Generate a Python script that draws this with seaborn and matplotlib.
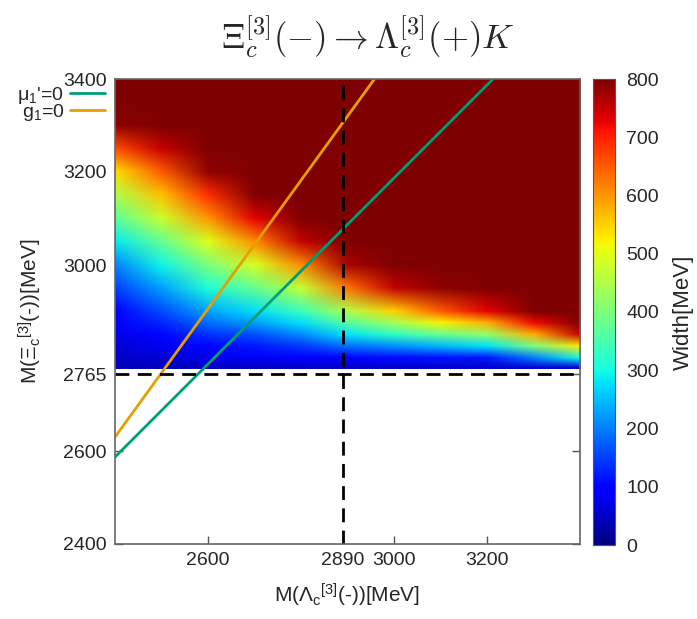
import numpy as np
import matplotlib
matplotlib.use("Agg")
import matplotlib.pyplot as plt
from matplotlib.image import NonUniformImage
from matplotlib.patches import Rectangle
import seaborn as sns

# grid of the width map (MeV)
mass_lambda = [2400, 2500, 2600, 2700, 2800, 2900, 3000, 3100, 3200, 3300, 3400]
mass_xi = [2778, 2800, 2825, 2850, 2875, 2900, 2950, 3000, 3050, 3100,
           3150, 3200, 3250, 3300, 3350, 3400]
width_rows = [
    [40, 42, 45, 48, 50, 55, 55, 55, 58, 60, 60],
    [50, 62, 75, 85, 90, 100, 110, 115, 120, 200, 300],
    [62, 82, 105, 120, 145, 190, 215, 245, 280, 400, 530],
    [75, 105, 140, 165, 210, 280, 330, 380, 420, 580, 750],
    [85, 130, 185, 225, 275, 365, 440, 520, 580, 720, 800],
    [95, 160, 230, 275, 340, 450, 550, 650, 730, 800, 800],
    [150, 225, 310, 380, 470, 630, 750, 790, 800, 800, 800],
    [205, 295, 400, 490, 610, 770, 800, 800, 800, 800, 800],
    [285, 380, 495, 610, 750, 800, 800, 800, 800, 800, 800],
    [370, 475, 600, 730, 800, 800, 800, 800, 800, 800, 800],
    [450, 565, 690, 800, 800, 800, 800, 800, 800, 800, 800],
    [540, 650, 785, 800, 800, 800, 800, 800, 800, 800, 800],
    [665, 750, 800, 800, 800, 800, 800, 800, 800, 800, 800],
    [790, 800, 800, 800, 800, 800, 800, 800, 800, 800, 800],
    [800, 800, 800, 800, 800, 800, 800, 800, 800, 800, 800],
    [800, 800, 800, 800, 800, 800, 800, 800, 800, 800, 800],
]

# the two constraint lines (end points)
mu_x = [2400, 3213]
mu_y = [2587, 3400]
g_x = [2400, 2958]
g_y = [2630, 3400]

xi_threshold = 2765
lambda_mark = 2890

x_ticks = [2600, 2890, 3000, 3200]
y_ticks = [2400, 2600, 2765, 3000, 3200, 3400]
cbar_ticks = [0, 100, 200, 300, 400, 500, 600, 700, 800]

sns.set_style("ticks")
plt.rcParams["font.family"] = ["Liberation Sans", "DejaVu Sans"]
plt.rcParams["mathtext.fontset"] = "custom"
plt.rcParams["mathtext.rm"] = "Liberation Sans"
plt.rcParams["mathtext.it"] = "Liberation Sans:italic"
plt.rcParams["mathtext.bf"] = "Liberation Sans:bold"

fig = plt.figure(figsize=(6.97, 6.19), dpi=100)
ax = fig.add_axes([115 / 697, 75 / 619, 465 / 697, 465 / 619])

# smooth colour map of the width, bilinear between the read grid nodes
img = NonUniformImage(ax, interpolation="bilinear", cmap="jet",
                      extent=(mass_lambda[0], mass_lambda[-1], mass_xi[0], mass_xi[-1]),
                      zorder=1)
img.set_data(np.array(mass_lambda, dtype=float), np.array(mass_xi, dtype=float),
             np.array(width_rows, dtype=float))
img.set_clim(0, 800)
ax.add_image(img)
# only the part above the lower mass edge is coloured
clip = Rectangle((mass_lambda[0], mass_xi[0]), mass_lambda[-1] - mass_lambda[0],
                 mass_xi[-1] - mass_xi[0], transform=ax.transData)
img.set_clip_path(clip)

sns.lineplot(x=mu_x, y=mu_y, color="#009e73", lw=2, label=r"$\mathrm{\mu_1}$'=0",
             ax=ax, zorder=3)
sns.lineplot(x=g_x, y=g_y, color="#e69f00", lw=2, label=r"$\mathrm{g_1}$=0",
             ax=ax, zorder=3)

ax.axhline(xi_threshold, color="black", lw=2, ls=(0, (5, 3)), zorder=4)
ax.axvline(lambda_mark, color="black", lw=2, ls=(0, (5, 3)), zorder=4)

ax.set_xlim(2400, 3400)
ax.set_ylim(2400, 3400)
ax.set_xticks(x_ticks)
ax.set_yticks(y_ticks)
ax.tick_params(direction="in", top=True, right=True, length=6, width=1,
               color="#555555", labelsize=14, pad=6)
for sp in ax.spines.values():
    sp.set_color("#666666")
    sp.set_linewidth(1.2)
    sp.set_zorder(5)

ax.set_xlabel(r"M($\mathrm{\Lambda_c}$$\mathrm{^{[3]}}$(-))[MeV]", fontsize=15, labelpad=9)
ax.set_ylabel(r"M($\mathrm{\Xi_c}$$\mathrm{^{[3]}}$(-))[MeV]", fontsize=15, labelpad=14)

ax.legend(loc="upper right", bbox_to_anchor=(105 / 697, 1 - 85 / 619),
          bbox_transform=fig.transFigure, markerfirst=False, frameon=False,
          handlelength=1.8, handletextpad=0.3, labelspacing=-0.2, fontsize=14,
          borderpad=0, borderaxespad=0)

cax = fig.add_axes([593 / 697, 74 / 619, 22 / 697, 466 / 619])
cb = fig.colorbar(img, cax=cax, ticks=cbar_ticks)
cb.outline.set_edgecolor("#555555")
cax.tick_params(direction="in", left=True, right=True, length=5, color="#333333",
                labelsize=14, pad=8)
cb.set_label("Width[MeV]", fontsize=16, labelpad=10)

fig.text(368 / 697, 1 - 37 / 619,
         r"$\Xi_c^{[\mathbf{3}]}(-) \rightarrow \Lambda_c^{[\mathbf{3}]}(+)K$",
         ha="center", va="center", fontsize=25, math_fontfamily="cm")

fig.savefig("out.png", dpi=100)
